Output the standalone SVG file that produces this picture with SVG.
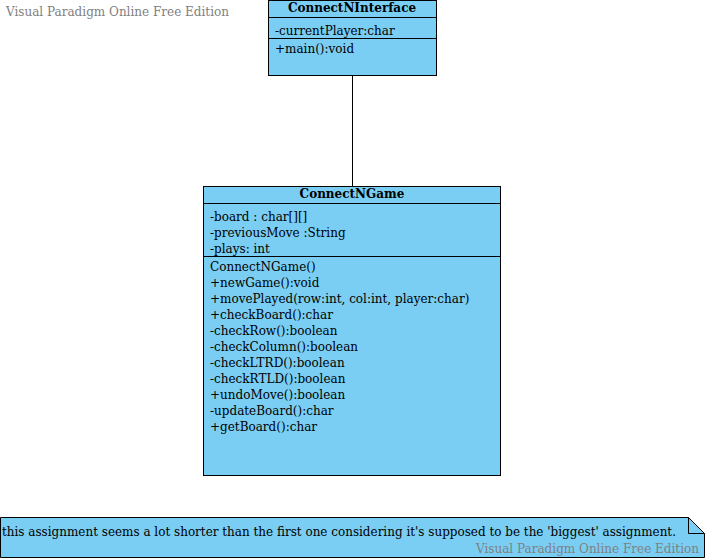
<svg xmlns="http://www.w3.org/2000/svg" width="705" height="558" viewBox="0 0 705 558">
<style>
.box{fill:#7acef4;stroke:#000;stroke-width:1}
.ln{stroke:#000;stroke-width:1;fill:none}
text{font-family:"DejaVu Serif","Liberation Serif",serif;font-size:12px;fill:#000}
.b{font-weight:bold;text-anchor:middle}
.wm{fill:#808080}
</style>
<rect width="705" height="558" fill="#fff"/>
<text class="wm" x="6" y="16" textLength="223" lengthAdjust="spacingAndGlyphs">Visual Paradigm Online Free Edition</text>
<g id="connectors">
<line class="ln" x1="352.5" y1="76" x2="352.5" y2="186"/>
</g>
<g id="ConnectNInterface">
<rect class="box" x="268.5" y="0.5" width="168" height="75"/>
<line class="ln" x1="268.5" y1="17.5" x2="436.5" y2="17.5"/>
<line class="ln" x1="268.5" y1="38.5" x2="436.5" y2="38.5"/>
<text class="b" x="352" y="12">ConnectNInterface</text>
<text x="275" y="35">-currentPlayer:char</text>
<text x="275" y="53">+main():void</text>
</g>
<g id="ConnectNGame">
<rect class="box" x="203.5" y="186.5" width="297" height="289"/>
<line class="ln" x1="203.5" y1="203.5" x2="500.5" y2="203.5"/>
<line class="ln" x1="203.5" y1="256.5" x2="500.5" y2="256.5"/>
<text class="b" x="352" y="198">ConnectNGame</text>
<text x="210" y="221">-board : char[][]</text>
<text x="210" y="237">-previousMove :String</text>
<text x="210" y="253">-plays: int</text>
<text x="210" y="271">ConnectNGame()</text>
<text x="210" y="287">+newGame():void</text>
<text x="210" y="303">+movePlayed(row:int, col:int, player:char)</text>
<text x="210" y="319">+checkBoard():char</text>
<text x="210" y="335">-checkRow():boolean</text>
<text x="210" y="351">-checkColumn():boolean</text>
<text x="210" y="367">-checkLTRD():boolean</text>
<text x="210" y="383">-checkRTLD():boolean</text>
<text x="210" y="399">+undoMove():boolean</text>
<text x="210" y="415">-updateBoard():char</text>
<text x="210" y="431">+getBoard():char</text>
</g>
<g id="note">
<path class="box" d="M0.5,517.5 H688.5 L704.5,533.5 V557.5 H0.5 Z"/>
<path class="ln" d="M688.5,517.5 V533.5 H704.5"/>
<text x="2" y="536" textLength="674" lengthAdjust="spacingAndGlyphs">this assignment seems a lot shorter than the first one considering it's supposed to be the 'biggest' assignment.</text>
<text class="wm" x="476" y="553" textLength="223" lengthAdjust="spacingAndGlyphs">Visual Paradigm Online Free Edition</text>
</g>
</svg>
